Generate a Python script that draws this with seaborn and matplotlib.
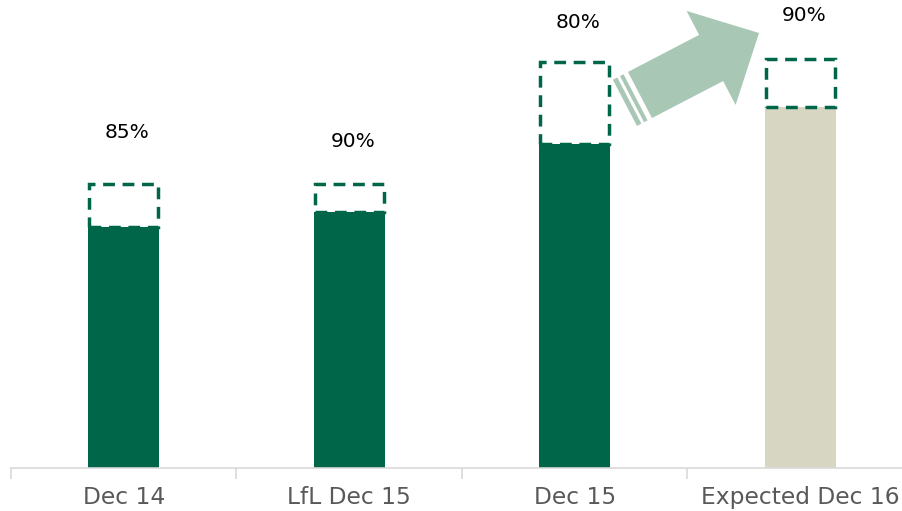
import numpy as np
import pandas as pd
import matplotlib
matplotlib.use("Agg")
import matplotlib.pyplot as plt
from matplotlib.patches import Polygon
import seaborn as sns

# ---- data ----
categories = ["Dec 14", "LfL Dec 15", "Dec 15", "Expected Dec 16"]
capacity = [100, 100, 143, 144]          # dashed outline (total)
occupied = [85, 90, 114, 127]            # filled bar
pct_labels = ["85%", "90%", "80%", "90%"]
label_y = [118.3, 114.8, 157.0, 159.2]   # label heights in data units

DARK = "#00664A"
BEIGE = "#D6D6C2"
ARROW = "#A9C7B5"
TICK = "#595959"

sns.set_theme(style="white")
plt.rcParams["font.family"] = ["DejaVu Sans"]

W, H = 903, 511
fig = plt.figure(figsize=(W / 100, H / 100), dpi=100)
ax = fig.add_axes([11 / W, (H - 468) / H, 902 / W, 468 / H])

df = pd.DataFrame({"cat": categories, "occ": occupied})
sns.barplot(data=df, x="cat", y="occ", hue="cat",
            palette=[DARK, DARK, DARK, BEIGE], legend=False,
            width=0.315, saturation=1, ax=ax, zorder=2, linewidth=0)

# dashed outline boxes from occupied level to capacity
xpos = np.arange(len(categories))
ax.bar(xpos, np.array(capacity) - np.array(occupied), bottom=occupied,
       width=0.305, fill=False, edgecolor=DARK, linewidth=2.5,
       linestyle=(0, (3.4, 2.2)), zorder=3)

for i, (lab, y) in enumerate(zip(pct_labels, label_y)):
    ax.text(i + 0.015, y, lab, ha="center", va="center", fontsize=14.5,
            color="black")

ax.set_xlim(-0.5, 3.5)
ax.set_ylim(0, 468 / 2.84)
ax.set_xlabel("")
ax.set_ylabel("")
ax.set_yticks([])
for s in ["top", "right", "left"]:
    ax.spines[s].set_visible(False)
ax.spines["bottom"].set_color("#D9D9D9")
ax.spines["bottom"].set_linewidth(1.2)
ax.set_xticks(xpos)
ax.set_xticklabels(categories, fontsize=16.8, color=TICK)
ax.tick_params(axis="x", which="major", length=0, pad=13)
ax.set_xticks(np.arange(-0.5, 4.0, 1.0), minor=True)
ax.tick_params(axis="x", which="minor", length=8, width=1.2, color="#D9D9D9",
               bottom=True)

# decorative block arrow (figure pixel coordinates)
def px(pts):
    return [(x / W, 1 - y / H) for x, y in pts]

tip = np.array([759.0, 33.0])
tail = np.array([640.0, 95.0])
u = (tip - tail) / np.linalg.norm(tip - tail)
n = np.array([-u[1], u[0]])
if n[1] < 0:
    n = -n
hw, hhw, hl = 26, 53, 54
base = tip - hl * u
arrow_pts = [tail - hw * n, base - hw * n, base - hhw * n, tip,
             base + hhw * n, base + hw * n, tail + hw * n]
fig.patches.append(Polygon(px(arrow_pts), closed=True, transform=fig.transFigure,
                           facecolor=ARROW, edgecolor="none"))
for a, b in [(-9, -5), (-17, -12)]:
    p0, p1 = tail + a * u, tail + b * u
    stripe = [p0 - hw * n, p1 - hw * n, p1 + hw * n, p0 + hw * n]
    fig.patches.append(Polygon(px(stripe), closed=True, transform=fig.transFigure,
                               facecolor=ARROW, edgecolor="none"))

fig.savefig("out.png", dpi=100)
